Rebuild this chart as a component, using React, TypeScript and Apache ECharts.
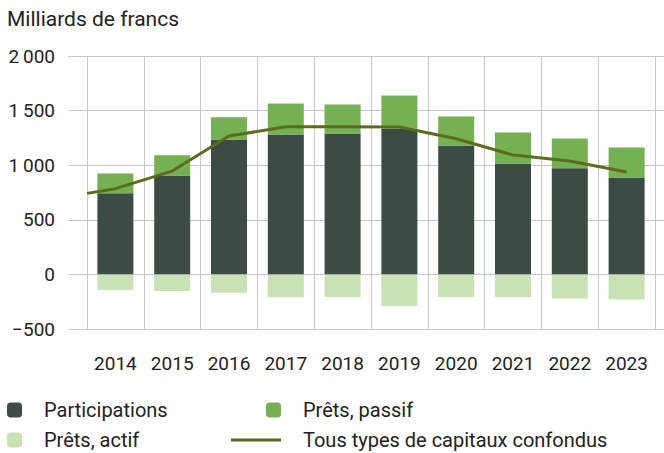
import React, { useEffect, useRef } from "react";
import * as echarts from "echarts";

const years = ["2014", "2015", "2016", "2017", "2018", "2019", "2020", "2021", "2022", "2023"];
const participations = [742, 906, 1236, 1282, 1291, 1334, 1181, 1016, 971, 888];
const pretsPassif = [183, 184, 202, 284, 266, 305, 266, 284, 274, 275];
const pretsActif = [-144, -153, -168, -210, -208, -290, -208, -208, -220, -229];
const lineYears = [2013.5, 2014, 2015, 2016, 2017, 2018, 2019, 2020, 2021, 2022, 2023];
const tousTypes = [742, 785, 946, 1267, 1352, 1352, 1349, 1242, 1093, 1038, 937];

const FONT = "Roboto, 'Liberation Sans', Arial, sans-serif";
const GRID = "#c8c8c8";
const TEXT = "#222222";
const LINE = "#5e6b1f";

function fmt(v: number): string {
  const a = Math.abs(v);
  const s = a >= 1000 ? Math.floor(a / 1000) + "\u2009" + String(a % 1000).padStart(3, "0") : String(a);
  return v < 0 ? "\u2212" + s : s;
}

export default function App() {
  const ref = useRef<HTMLDivElement>(null);
  useEffect(() => {
    if (!ref.current) return;
    const chart = echarts.init(ref.current, null, { renderer: "svg" });
    const legendBase = {
      orient: "horizontal" as const,
      padding: 0,
      selectedMode: false,
      itemHeight: 15,
      textStyle: { fontSize: 20, color: TEXT, fontFamily: FONT, padding: [0, 0, 0, 17] },
    };
    chart.setOption({
      animation: false,
      textStyle: { fontFamily: FONT },
      title: {
        text: "Milliards de francs",
        left: 7,
        top: 8,
        padding: 0,
        textStyle: { fontSize: 21, fontWeight: "normal", color: TEXT, fontFamily: FONT },
      },
      grid: { left: 87, right: 9, top: 56, bottom: 124, containLabel: false },
      xAxis: [
        {
          type: "category",
          data: years,
          position: "bottom",
          axisLine: { show: false },
          axisTick: { show: true, length: 19, interval: 0, lineStyle: { color: GRID } },
          splitLine: { show: true, interval: 0, lineStyle: { color: GRID, width: 1 } },
          axisLabel: { fontSize: 19, color: TEXT, margin: 25, interval: 0, fontFamily: FONT },
        },
        {
          type: "category",
          data: years,
          position: "top",
          axisLine: { show: false },
          axisTick: { show: true, length: 18, interval: 0, lineStyle: { color: GRID } },
          axisLabel: { show: false },
          splitLine: { show: false },
        },
        {
          type: "value",
          min: 2013.5,
          max: 2023.5,
          show: false,
        },
      ],
      yAxis: [
        {
          type: "value",
          min: -500,
          max: 2000,
          interval: 500,
          position: "left",
          axisLine: { show: false },
          axisTick: { show: true, length: 19, lineStyle: { color: GRID } },
          splitLine: { show: true, lineStyle: { color: GRID, width: 1 } },
          axisLabel: { fontSize: 19, color: TEXT, margin: 32, formatter: (v: number) => fmt(v), fontFamily: FONT },
        },
        {
          type: "value",
          min: -500,
          max: 2000,
          interval: 500,
          position: "right",
          axisLine: { show: false },
          axisTick: { show: true, length: 9, lineStyle: { color: GRID } },
          splitLine: { show: false },
          axisLabel: { show: false },
        },
      ],
      legend: [
        { ...legendBase, left: 7, top: 400, itemWidth: 15, data: ["Participations"] },
        { ...legendBase, left: 7, top: 430, itemWidth: 15, data: ["Prêts, actif"] },
        { ...legendBase, left: 266, top: 400, itemWidth: 15, data: ["Prêts, passif"] },
        {
          ...legendBase,
          left: 231,
          top: 430,
          itemWidth: 50,
          itemHeight: 3,
          data: [{ name: "Tous types de capitaux confondus", icon: "rect", itemStyle: { color: LINE } }],
        },
      ],
      series: [
        {
          name: "Participations",
          type: "bar",
          stack: "total",
          barWidth: 36,
          data: participations,
          itemStyle: { color: "#3c4b44" },
        },
        {
          name: "Prêts, passif",
          type: "bar",
          stack: "total",
          barWidth: 36,
          data: pretsPassif,
          itemStyle: { color: "#74b152" },
        },
        {
          name: "Prêts, actif",
          type: "bar",
          stack: "total",
          barWidth: 36,
          data: pretsActif,
          itemStyle: { color: "#c8e1b5" },
        },
        {
          name: "Tous types de capitaux confondus",
          type: "line",
          xAxisIndex: 2,
          yAxisIndex: 0,
          symbol: "none",
          showSymbol: false,
          data: lineYears.map((x, i) => [x, tousTypes[i]]),
          lineStyle: { color: LINE, width: 3 },
          itemStyle: { color: LINE },
          z: 5,
        },
      ],
    });
    return () => chart.dispose();
  }, []);
  return <div ref={ref} style={{ position: "absolute", left: 0, top: 0, width: 664, height: 453 }} />;
}
